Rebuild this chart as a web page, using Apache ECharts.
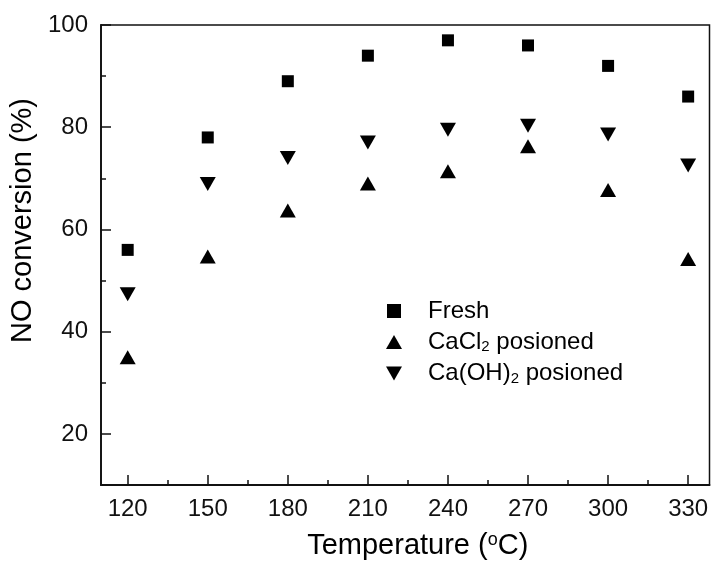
<!DOCTYPE html>
<html>
<head>
<meta charset="utf-8">
<script src="https://cdn.jsdelivr.net/npm/echarts@6/dist/echarts.min.js"></script>
<style>
html,body{margin:0;padding:0;background:#fff;}
#chart{width:711px;height:562px;}
</style>
</head>
<body>
<div id="chart"></div>
<script>
// Data
var temperatures = [120, 150, 180, 210, 240, 270, 300, 330];
var freshValues = [56, 78, 89, 94, 97, 96, 92, 86];
var cacl2Values = [35, 54.7, 63.7, 69, 71.4, 76.3, 67.7, 54.2];
var caoh2Values = [47.3, 68.9, 74, 77, 79.5, 80.3, 78.6, 72.5];
var xTickLabels = [120, 150, 180, 210, 240, 270, 300, 330];
var xMinorTicks = [135, 165, 195, 225, 255, 285, 315];
var yTickLabels = [20, 40, 60, 80, 100];
var yMinorTicks = [30, 50, 70, 90];
var seriesNames = ['Fresh', 'CaCl2 posioned', 'Ca(OH)2 posioned'];

function pairs(xs, ys) { return xs.map(function (x, i) { return [x, ys[i]]; }); }

var FONT = '"Liberation Sans", Arial, Helvetica, sans-serif';
var downTri = 'path://M0,0L16,0L8,14Z';
var upTri = 'path://M8,0L16,14L0,14Z';
var square = 'path://M0,0L12,0L12,12L0,12Z';

var chart = echarts.init(document.getElementById('chart'), null, {renderer: 'canvas'});
var option = {
  backgroundColor: '#fff',
  animation: false,
  textStyle: {fontFamily: FONT},
  grid: {left: 101, top: 25, right: 1.5, bottom: 77, show: true, borderColor: '#111', borderWidth: 1.5,
         containLabel: false, outerBoundsMode: 'none'},
  xAxis: [{
    type: 'value', min: 110, max: 338, position: 'bottom',
    name: '{t|Temperature (}{sup|o}{t|C)}', nameLocation: 'middle', nameGap: 46,
    nameTextStyle: {padding: [0, 0, 0, 25], rich: {
      t: {fontSize: 29, fontFamily: FONT, color: '#000'},
      sup: {fontSize: 18, fontFamily: FONT, color: '#000', verticalAlign: 'top', padding: [0, 0, 12, 0]}
    }},
    axisLine: {show: true, onZero: false, lineStyle: {color: '#111', width: 1.8}},
    axisTick: {show: true, inside: true, length: 10, customValues: xTickLabels, lineStyle: {color: '#111', width: 1.5}},
    axisLabel: {show: true, customValues: xTickLabels, fontSize: 24, color: '#111', fontFamily: FONT, margin: 12},
    splitLine: {show: false}
  }, {
    type: 'value', min: 110, max: 338, position: 'bottom',
    axisLine: {show: false},
    axisTick: {show: true, inside: true, length: 5, customValues: xMinorTicks, lineStyle: {color: '#111', width: 1.5}},
    axisLabel: {show: false},
    splitLine: {show: false}
  }],
  yAxis: [{
    type: 'value', min: 10, max: 100, position: 'left',
    name: 'NO conversion (%)', nameLocation: 'middle', nameGap: 61, nameRotate: 90,
    nameTextStyle: {fontSize: 29, color: '#000', fontFamily: FONT, padding: [0, 0, 0, 69]},
    axisLine: {show: true, onZero: false, lineStyle: {color: '#111', width: 1.8}},
    axisTick: {show: true, inside: true, length: 10, customValues: yTickLabels, lineStyle: {color: '#111', width: 1.5}},
    axisLabel: {show: true, customValues: yTickLabels, fontSize: 24, color: '#111', fontFamily: FONT, margin: 13},
    splitLine: {show: false}
  }, {
    type: 'value', min: 10, max: 100, position: 'left',
    axisLine: {show: false},
    axisTick: {show: true, inside: true, length: 5, customValues: yMinorTicks, lineStyle: {color: '#111', width: 1.5}},
    axisLabel: {show: false},
    splitLine: {show: false}
  }],
  legend: {
    orient: 'vertical', left: 381, top: 294, itemWidth: 58, itemHeight: 14, itemGap: 7,
    symbolKeepAspect: true,
    data: [
      {name: seriesNames[0], icon: square},
      {name: seriesNames[1], icon: upTri},
      {name: seriesNames[2], icon: downTri}
    ],
    formatter: function (name) {
      if (name === seriesNames[1]) return '{n|CaCl}{s|2}{n| posioned}';
      if (name === seriesNames[2]) return '{n|Ca(OH)}{s|2}{n| posioned}';
      return '{n|' + name + '}';
    },
    textStyle: {
      color: '#000', fontFamily: FONT, fontSize: 24,
      rich: {
        n: {fontSize: 24, fontFamily: FONT, color: '#000', lineHeight: 25},
        s: {fontSize: 15, fontFamily: FONT, color: '#000', lineHeight: 25, verticalAlign: 'bottom', padding: [8, 0, 0, 0]}
      }
    }
  },
  series: [{
    name: seriesNames[0], type: 'scatter', xAxisIndex: 0, yAxisIndex: 0,
    symbol: 'rect', symbolSize: 12, itemStyle: {color: '#000', opacity: 1},
    data: pairs(temperatures, freshValues)
  }, {
    name: seriesNames[1], type: 'scatter', xAxisIndex: 0, yAxisIndex: 0,
    symbol: upTri, symbolSize: [16, 14], itemStyle: {color: '#000', opacity: 1},
    data: pairs(temperatures, cacl2Values)
  }, {
    name: seriesNames[2], type: 'scatter', xAxisIndex: 0, yAxisIndex: 0,
    symbol: downTri, symbolSize: [16, 14], itemStyle: {color: '#000', opacity: 1},
    data: pairs(temperatures, caoh2Values)
  }]
};
chart.setOption(option);
</script>
</body>
</html>
